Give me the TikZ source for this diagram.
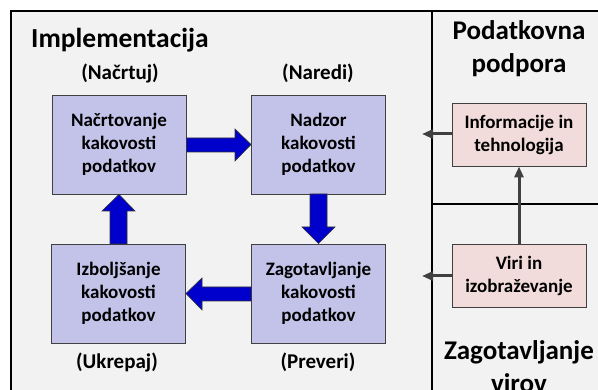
\documentclass[tikz,border=0pt]{standalone}
\usepackage{fontspec}
\setmainfont{Carlito}
\usetikzlibrary{shapes.arrows,arrows.meta}
\definecolor{bgc}{HTML}{F2F2F2}
\definecolor{boxblue}{HTML}{C3C3EA}
\definecolor{boxpink}{HTML}{F2DCDB}
\definecolor{arrblue}{HTML}{0000CC}
\definecolor{arrgray}{HTML}{404040}
\tikzset{
  procbox/.style={draw=black!75, line width=0.9pt, fill=boxblue, minimum width=134pt, minimum height=99pt, align=center, font=\bfseries\fontsize{19}{23}\selectfont, inner sep=0pt},
  resbox/.style={draw=black!75, line width=0.9pt, fill=boxpink, minimum width=134pt, minimum height=63pt, align=center, font=\bfseries\fontsize{19}{23}\selectfont, inner sep=0pt},
  phase/.style={font=\bfseries\fontsize{21}{24}\selectfont, inner sep=0pt},
  title/.style={font=\bfseries\fontsize{27.5}{32}\selectfont, inner sep=0pt, align=center},
  rtitle/.style={font=\bfseries\fontsize{27}{33}\selectfont, inner sep=0pt, align=center},
  blockarrow/.style={draw=black!80, line width=0.6pt, fill=arrblue},
  grayarrow/.style={draw=arrgray, line width=3pt, -{Triangle[length=11pt,width=9pt]}},
}
\begin{document}
\begin{tikzpicture}[x=1pt,y=-1pt]
\useasboundingbox (0,0) rectangle (598,390);
\clip (0,0) rectangle (598,390);
\fill[white] (0,0) rectangle (598,390);
\draw[fill=bgc, line width=2pt] (11,11) rectangle (604,396);
\draw[line width=2pt] (432,11) -- (432,396);
\draw[line width=2pt] (432,204) -- (604,204);

\node[title, anchor=base west] (impl) at (31,48) {Implementacija};
\node[rtitle] (podp) at (519,49) {Podatkovna\\podpora};
\node[rtitle] (zagv) at (519,367) {Zagotavljanje\\virov};

\node[procbox] (plan) at (119,144.5) {Načrtovanje\\kakovosti\\podatkov};
\node[procbox] (do) at (318.5,144.5) {Nadzor\\kakovosti\\podatkov};
\node[procbox] (act) at (118.5,293.5) {Izboljšanje\\kakovosti\\podatkov};
\node[procbox] (check) at (318.5,293.5) {Zagotavljanje\\kakovosti\\podatkov};

\node[phase, anchor=base] (pplan) at (120,80) {(Načrtuj)};
\node[phase, anchor=base] (pdo) at (318,80) {(Naredi)};
\node[phase, anchor=base] (pact) at (117,369) {(Ukrepaj)};
\node[phase, anchor=base] (pcheck) at (318,369) {(Preveri)};

\node[resbox] (info) at (519,134.5) {Informacije in\\tehnologija};
\node[resbox] (viri) at (519,275.5) {Viri in\\izobraževanje};

% blue block arrows
\draw[blockarrow] (plan.east |- 0,138) -- (235,138) -- (235,129) -- (do.west) -- (235,161) -- (235,152) -- (plan.east |- 0,152) -- cycle;
\draw[blockarrow] (310,194) -- (310,227) -- (302,227) -- (check.north) -- (335,227) -- (327,227) -- (327,194) -- cycle;
\draw[blockarrow] (check.west |- 0,287) -- (202,287) -- (202,278) -- (act.east) -- (202,310) -- (202,301) -- (check.west |- 0,301) -- cycle;
\draw[blockarrow] (110,244) -- (110,211) -- (102,211) -- (plan.south) -- (135,211) -- (127,211) -- (127,244) -- cycle;

% gray arrows
\coordinate (tipinfo) at (422,134);
\coordinate (tipviri) at (422,276);
\draw[grayarrow] (info.west |- 0,134) -- (tipinfo);
\draw[grayarrow] (viri.west |- 0,276) -- (tipviri);
\draw[grayarrow] (viri.north) -- (info.south);
\end{tikzpicture}
\end{document}
